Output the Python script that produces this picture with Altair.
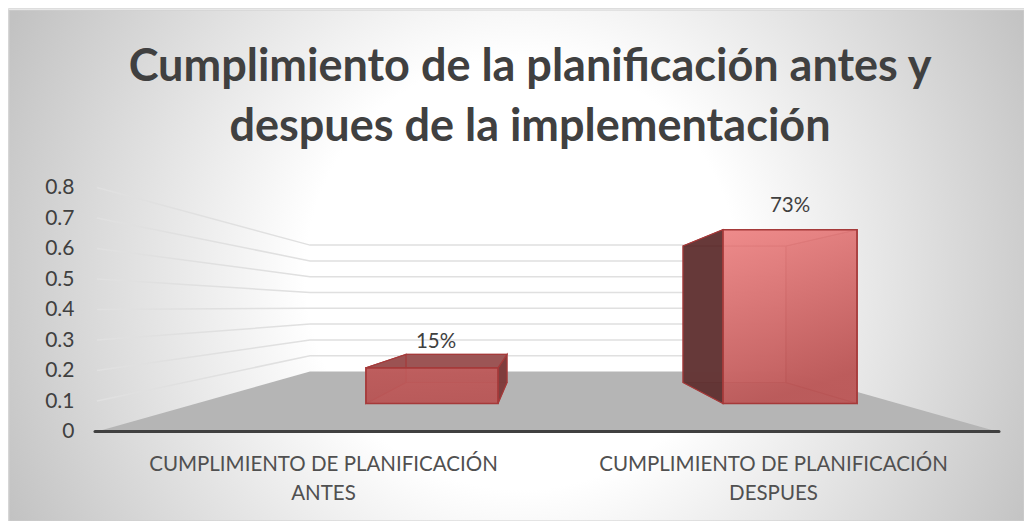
import json
import altair as alt
import pandas as pd

# ---- chart content ----
title_lines = ["Cumplimiento de la planificación antes y", "despues de la implementación"]
categories = [["CUMPLIMIENTO DE PLANIFICACIÓN", "ANTES"], ["CUMPLIMIENTO DE PLANIFICACIÓN", "DESPUES"]]
values = [0.15, 0.73]
y_ticks = [0, 0.1, 0.2, 0.3, 0.4, 0.5, 0.6, 0.7, 0.8]

# ---- 3D projection parameters (page pixels) ----
W, H = 1016, 513
AXIS_BASE, AXIS_UNIT = 431.5, 305.0
WALL_BASE, WALL_UNIT = 371.5, 158.0
BAR_F_BASE, BAR_F_UNIT = 403.5, 238.0
BAR_B_BASE, BAR_B_UNIT = 382.5, 187.0
WALL_L, WALL_R = 310, 785
FLOOR_L, FLOOR_R = 97, 997
BAR_FRONT_X = [(366, 498), (723, 857)]
BAR_BACK_X = [(406, 507), (683, 786)]
CAT_CENTRES = [323, 773]
LABEL_X = [436, 790]
LABEL_GAP = [12, 24]


def v(py):
    return (AXIS_BASE - py) / AXIS_UNIT


label_expr = "datum.value < 500 ? %s : %s" % (json.dumps(categories[0], ensure_ascii=False),
                                              json.dumps(categories[1], ensure_ascii=False))
X_SCALE = alt.Scale(domain=[8, 8 + W], nice=False, zero=False)
Y_SCALE = alt.Scale(domain=[v(8 + H), v(8)], nice=False, zero=False)
X_AXIS = alt.Axis(values=CAT_CENTRES, labelExpr=label_expr, orient="bottom", offset=-67, labelPadding=0,
                  domain=False, ticks=False, grid=False, title=None, labelFont="Lato", labelFontSize=20.5,
                  labelColor="#505050", labelOverlap=False, labelLimit=600, labelLineHeight=29,
                  labelBaseline="top", zindex=1)
Y_AXIS = alt.Axis(values=y_ticks, format="~g", orient="left", offset=-66, labelPadding=0, domain=False,
                  ticks=False, grid=False, title=None, labelFont="Lato", labelFontSize=21,
                  labelColor="#404040", labelOverlap=False, zindex=1)
x_enc = alt.X("x:Q", scale=X_SCALE, axis=X_AXIS)
y_enc = alt.Y("y:Q", scale=Y_SCALE, axis=Y_AXIS)


def vertical(rows, **mark):
    df = pd.DataFrame(rows, columns=["x", "y", "y2"])
    return alt.Chart(df).mark_area(orient="vertical", **mark).encode(x=x_enc, y=y_enc, y2="y2:Q")


def horizontal(rows, **mark):
    df = pd.DataFrame(rows, columns=["y", "x", "x2"])
    return alt.Chart(df).mark_area(orient="horizontal", **mark).encode(y=y_enc, x=x_enc, x2="x2:Q")


def grad(c1, c2, x2=0.25, y2=1.0):
    return {"gradient": "linear", "x1": 0, "y1": 0, "x2": x2, "y2": y2,
            "stops": [{"offset": 0, "color": c1}, {"offset": 1, "color": c2}]}


# background
bg_df = pd.DataFrame({"x": [9], "x2": [8 + W], "y": [v(10)], "y2": [v(8 + H)]})
background = alt.Chart(bg_df).mark_rect(
    fill={"gradient": "radial", "x1": 0.505, "y1": 0.508, "x2": 0.505, "y2": 0.508, "r1": 0, "r2": 0.56,
          "stops": [{"offset": 0, "color": "#ffffff"}, {"offset": 0.38, "color": "#ffffff"},
                    {"offset": 1, "color": "#c2c2c2"}]},
    stroke="#cfcfcf", strokeWidth=1,
).encode(x=x_enc, x2="x2:Q", y=y_enc, y2="y2:Q")

# gridlines: along the left wall and back wall
grid_rows = []
for t in y_ticks[1:]:
    grid_rows.append({"t": t, "o": 0, "x": FLOOR_L, "y": t})
    grid_rows.append({"t": t, "o": 1, "x": WALL_L, "y": v(WALL_BASE - WALL_UNIT * t)})
    grid_rows.append({"t": t, "o": 2, "x": WALL_R, "y": v(WALL_BASE - WALL_UNIT * t)})
grid = alt.Chart(pd.DataFrame(grid_rows)).mark_line(stroke="#e0e0e0", strokeWidth=1.5).encode(
    x=x_enc, y=y_enc, detail="t:N", order="o:Q")

# floor + base line
floor = horizontal([(v(WALL_BASE), WALL_L, WALL_R), (v(AXIS_BASE), FLOOR_L, FLOOR_R)], fill="#b5b5b5")
base_df = pd.DataFrame({"x": [FLOOR_L - 2], "x2": [FLOOR_R + 2], "y": [0]})
base = alt.Chart(base_df).mark_rule(stroke="#404040", strokeWidth=3, strokeCap="round").encode(
    x=x_enc, x2="x2:Q", y=y_enc)

EDGE = "#a53a3a"
styles = [
    dict(back="#a35a5a", left="#9a5050", bottom="#b25a5a", right="#7c3a3a", top="#9a5353",
         front=grad("#c25e5e", "#ba5858")),
    dict(back="#e27f7f", left="#5b3232", bottom="#b95a5a", right=grad("#d87676", "#c66666", 0.6, 1), top="#e98080",
         front=grad("#ef8b8b", "#bb5959")),
]
bar_layers = []
for val, (fl, fr), (bl, br), st in zip(values, BAR_FRONT_X, BAR_BACK_X, styles):
    ft, fb = v(BAR_F_BASE - BAR_F_UNIT * val), v(BAR_F_BASE)
    bt, bb = v(BAR_B_BASE - BAR_B_UNIT * val), v(BAR_B_BASE)
    common = dict(stroke=EDGE, strokeWidth=1.2)
    bar_layers += [
        vertical([(bl, bt, bb), (br, bt, bb)], fill=st["back"], fillOpacity=0.9, strokeOpacity=0.6, **common),
        horizontal([(bb, bl, br), (fb, fl, fr)], fill=st["bottom"], fillOpacity=0.8, strokeOpacity=0.6, **common),
        vertical([(min(fr, br), bt if br < fr else ft, bb if br < fr else fb),
                  (max(fr, br), ft if br < fr else bt, fb if br < fr else bb)],
                 fill=st["right"], fillOpacity=0.93, **common),
        horizontal([(max(ft, bt), bl if bt > ft else fl, br if bt > ft else fr),
                    (min(ft, bt), fl if bt > ft else bl, fr if bt > ft else br)],
                   fill=st["top"], fillOpacity=0.9, **common),
        vertical([(min(fl, bl), bt if bl < fl else ft, bb if bl < fl else fb),
                  (max(fl, bl), ft if bl < fl else bt, fb if bl < fl else bb)],
                 fill=st["left"], fillOpacity=0.92, **common),
        vertical([(fl, ft, fb), (fr, ft, fb)], fill=st["front"], fillOpacity=0.88, strokeWidth=1.7, stroke=EDGE),
    ]

# data labels
labels_df = pd.DataFrame({
    "x": LABEL_X,
    "y": [v(min(BAR_F_BASE - BAR_F_UNIT * a, BAR_B_BASE - BAR_B_UNIT * a) - g) for a, g in zip(values, LABEL_GAP)],
    "label": [f"{a:.0%}" for a in values],
})
labels = alt.Chart(labels_df).mark_text(font="Lato", fontSize=20.5, color="#404040", baseline="middle").encode(
    x=x_enc, y=y_enc, text="label:N")

chart = alt.layer(background, grid, floor, *bar_layers, base, labels).properties(
    width=W, height=H, padding=0, autosize=alt.AutoSizeParams(type="none"),
    title=alt.TitleParams(text=title_lines, font="Lato", fontSize=45, fontWeight="bold", color="#404040",
                          anchor="middle", lineHeight=60, dx=14, dy=142, offset=0),
).configure_view(stroke=None).configure(background="white")

chart.save("out.html", embed_options={"renderer": "svg", "actions": False})
